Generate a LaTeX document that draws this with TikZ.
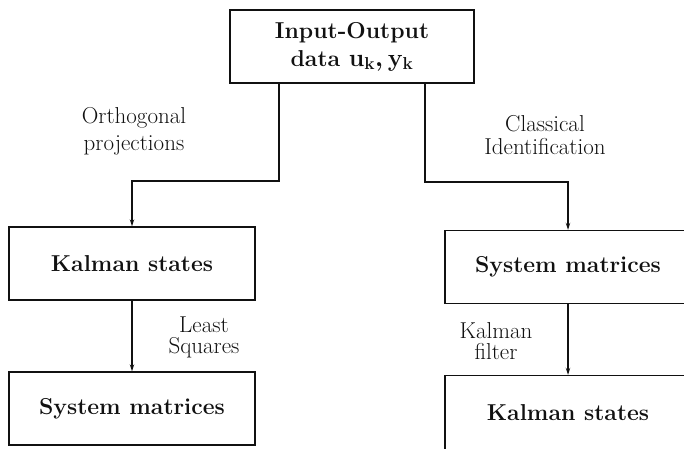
\documentclass[tikz,border=0pt]{standalone}
\usepackage{xcolor}
\usepackage{tikz}
\usetikzlibrary{arrows.meta}
\definecolor{idink}{HTML}{111111}
\tikzset{
  idbox/.style={rectangle, draw=idink, text=idink, line width=1.4pt, inner sep=0pt,
    minimum width=246pt, minimum height=73pt, align=center,
    font=\fontsize{23}{28}\selectfont\bfseries\boldmath},
  idlbl/.style={text=idink, inner sep=0pt, align=center, font=\fontsize{23}{#1}\selectfont},
  idlbl/.default=21,
  idtie/.style={draw=idink, line width=1.1pt},
  iddir/.style={draw=idink, line width=1.1pt, -{Stealth[length=7pt,width=4.5pt]}}
}

\begin{document}
\begin{tikzpicture}[x=1pt, y=-1pt]
  \useasboundingbox (0,0) rectangle (684,448);
  \clip (0,0) rectangle (684,448);
  % data
  \node[idbox, minimum width=244pt] (io) at (352,46.5) {Input-Output\\data $\mathbf{u_k},\mathbf{y_k}$};
  % left branch
  \node[idbox] (ksl) at (132,263.5) {Kalman states};
  \node[idbox] (sml) at (132,408.5) {System matrices};
  \coordinate (lsplit) at (279,181);
  \path[iddir] (io.south -| lsplit) -- (lsplit) -| (ksl.north);
  \path[iddir] (ksl.south) -- (sml.north);
  \node[idlbl=27] (orth) at (134,131) {Orthogonal\\projections};
  \node[idlbl] (lsq) at (204,337) {Least\\Squares};
  % right branch
  \node[idbox] (smr) at (568,267) {System matrices};
  \node[idbox, minimum height=75pt] (ksr) at (568,413) {Kalman states};
  \coordinate (rsplit) at (425,182);
  \path[iddir] (io.south -| rsplit) -- (rsplit) -| (smr.north);
  \path[iddir] (smr.south) -- (ksr.north);
  \node[idlbl=23] (clas) at (545,135.5) {Classical\\Identification};
  \node[idlbl] (kfl) at (496,341) {Kalman\\filter};
\end{tikzpicture}
\end{document}
